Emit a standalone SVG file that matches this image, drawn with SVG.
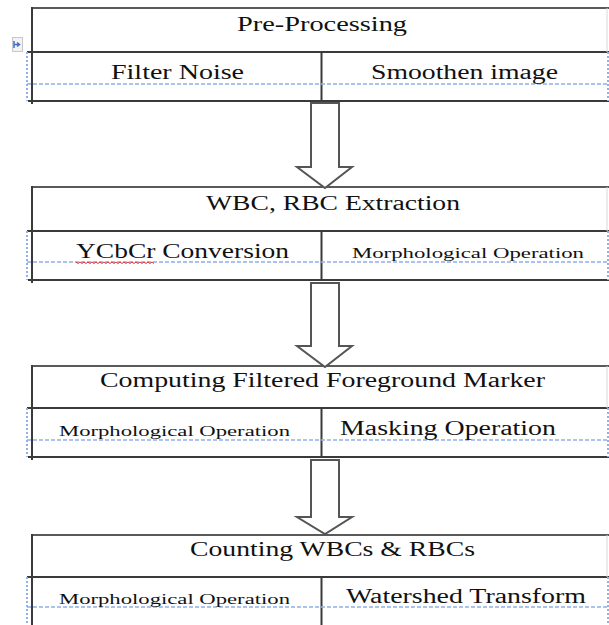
<svg xmlns="http://www.w3.org/2000/svg" width="609" height="625" viewBox="0 0 609 625">
<style>
.ln{stroke:#3a3a3a;stroke-width:2;fill:none}
.top{stroke:#5a5a5a;stroke-width:2;fill:none}
.dash{stroke:#8fb0e8;stroke-width:1.3;stroke-dasharray:4 2;fill:none}
.dot{stroke:#8fb0e8;stroke-width:2;stroke-dasharray:2 2;fill:none}
.edge{stroke:#d8d8d8;stroke-width:1;fill:none}
.arrow{fill:#fff;stroke:#555;stroke-width:2;stroke-linejoin:miter}
.t{font-family:"Liberation Serif","Times New Roman",serif;font-size:20px;fill:#111}
.s{font-family:"Liberation Serif","Times New Roman",serif;font-size:15px;fill:#111}
.sq{stroke:#e03030;stroke-width:1;fill:none}
</style>
<rect width="609" height="625" fill="#fff"/>
<g id="handle">
<rect x="12.5" y="37.5" width="10" height="14" fill="#f2f2f2" stroke="#c8c8c8" stroke-width="1"/>
<path d="M14 41v7M14 44.5h5M17 42.5l2.5 2-2.5 2" stroke="#3f6fd0" stroke-width="1.5" fill="none"/>
</g>
<g id="node-preprocessing">
<path class="top" d="M32 8H609"/>
<path class="ln" d="M32 7V104M27 52H609M28 101H609M321.5 52V101"/>
<path class="edge" d="M607 8V52"/>
<path class="dot" d="M27 52V101M608 52V101"/>
<path class="dash" d="M27 84H609"/>
<text class="t" x="237" y="31" textLength="170" lengthAdjust="spacingAndGlyphs">Pre-Processing</text>
<text class="t" x="111" y="79" textLength="133" lengthAdjust="spacingAndGlyphs">Filter Noise</text>
<text class="t" x="371" y="79" textLength="187" lengthAdjust="spacingAndGlyphs">Smoothen image</text>
</g>
<g id="node-extraction">
<path class="top" d="M32 187H609"/>
<path class="ln" d="M32 186V283M27 231H609M28 280H609M321.5 231V280"/>
<path class="edge" d="M607 187V231"/>
<path class="dot" d="M27 231V280M608 231V280"/>
<path class="dash" d="M27 262H609"/>
<text class="t" x="206" y="210" textLength="254" lengthAdjust="spacingAndGlyphs">WBC, RBC Extraction</text>
<text class="t" x="76" y="258" textLength="213" lengthAdjust="spacingAndGlyphs">YCbCr Conversion</text>
<path class="sq" d="M76 262l2 1.5 2-1.5 2 1.5 2-1.5 2 1.5 2-1.5 2 1.5 2-1.5 2 1.5 2-1.5 2 1.5 2-1.5 2 1.5 2-1.5 2 1.5 2-1.5 2 1.5 2-1.5 2 1.5 2-1.5 2 1.5 2-1.5 2 1.5 2-1.5 2 1.5 2-1.5 2 1.5 2-1.5 2 1.5 2-1.5 2 1.5 2-1.5 2 1.5 2-1.5 2 1.5 2-1.5 2 1.5 2-1.5 2 1.5"/>
<text class="s" x="352" y="258" textLength="232" lengthAdjust="spacingAndGlyphs">Morphological Operation</text>
</g>
<g id="node-marker">
<path class="top" d="M32 366H609"/>
<path class="ln" d="M32 365V460M27 408H609M28 457H609M321.5 408V457"/>
<path class="edge" d="M607 366V408"/>
<path class="dot" d="M27 408V457M608 408V457"/>
<path class="dash" d="M27 440H609"/>
<text class="t" x="100" y="387" textLength="445" lengthAdjust="spacingAndGlyphs">Computing Filtered Foreground Marker</text>
<text class="s" x="59" y="436" textLength="231" lengthAdjust="spacingAndGlyphs">Morphological Operation</text>
<text class="t" x="340" y="435" textLength="216" lengthAdjust="spacingAndGlyphs">Masking Operation</text>
</g>
<g id="node-counting">
<path class="top" d="M32 535H609"/>
<path class="ln" d="M32 534V625M27 577H609M321.5 577V625"/>
<path class="edge" d="M607 535V577"/>
<path class="dot" d="M27 577V625M608 577V625"/>
<path class="dash" d="M27 607H609"/>
<text class="t" x="190" y="556" textLength="285" lengthAdjust="spacingAndGlyphs">Counting WBCs &amp; RBCs</text>
<text class="s" x="59" y="604" textLength="231" lengthAdjust="spacingAndGlyphs">Morphological Operation</text>
<text class="t" x="346" y="603" textLength="240" lengthAdjust="spacingAndGlyphs">Watershed Transform</text>
</g>
<g id="connectors">
<path class="arrow" d="M311 103H339V167H352L325 188L297 167H311Z"/>
<path class="arrow" d="M311 283H339V346H352L325 367L297 346H311Z"/>
<path class="arrow" d="M311 460H339V517H352L325 534L297 517H311Z"/>
</g>
</svg>
